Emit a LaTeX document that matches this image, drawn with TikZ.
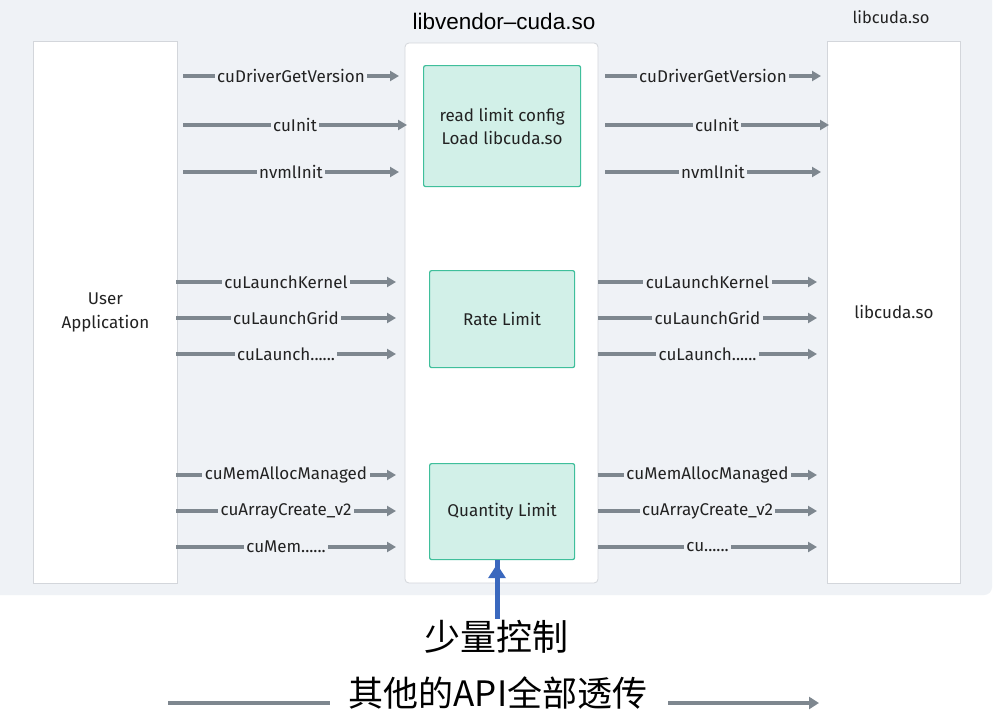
\documentclass[tikz,border=0pt]{standalone}
\usepackage{fontspec}
\setmainfont{Fira Sans}
\newfontfamily\titlefont{Liberation Sans}
\newfontfamily\cjk{Noto Sans CJK SC}
\usetikzlibrary{arrows.meta}
\definecolor{bgc}{HTML}{EFF2F6}
\definecolor{boxline}{HTML}{D3D6DB}
\definecolor{arrc}{HTML}{7E878F}
\definecolor{gfill}{HTML}{D2F0E8}
\definecolor{gline}{HTML}{3FBF9B}
\definecolor{bluearr}{HTML}{3A68BE}
\definecolor{txt}{HTML}{222222}
\tikzset{
  panel/.style={draw=boxline, line width=0.8pt, fill=white},
  gbox/.style={draw=gline, line width=1.2pt, fill=gfill, rounded corners=2pt, align=center, font=\fontsize{17}{23}\selectfont, text=txt},
  arr/.style={draw=arrc, line width=3.2pt, -{Triangle[length=9pt,width=10pt]}},
  lbl/.style={fill=bgc, inner sep=2.5pt, font=\fontsize{17}{19}\selectfont, text=txt},
}
\begin{document}
\begin{tikzpicture}[x=1pt,y=-1pt]
\useasboundingbox (0,0) rectangle (997,715);
\fill[white] (0,0) rectangle (997,715);
\fill[bgc, rounded corners=8pt] (-10,-10) rectangle (992,595);
% panels
\node[panel, minimum width=144pt, minimum height=542pt, anchor=north west, align=center, font=\fontsize{17}{24}\selectfont, text=txt] (app) at (33,41) {User\\Application};
\draw[panel, rounded corners=4pt] (405,43) rectangle (598,583);
\node[anchor=north west, minimum width=193pt, minimum height=540pt, inner sep=0] (vend) at (405,43) {};
\node[panel, minimum width=133pt, minimum height=542pt, anchor=north west, font=\fontsize{17}{19}\selectfont, text=txt] (cuda) at (827,41) {libcuda.so};
\node[font=\titlefont\fontsize{22.5}{26}\selectfont, text=black] (vtitle) at (504,21) {libvendor–cuda.so};
\node[font=\fontsize{16.5}{18}\selectfont, text=txt] (ctitle) at (891,17) {libcuda.so};
% green boxes
\node[gbox, minimum width=157pt, minimum height=121pt, anchor=north west] (cfg) at (423,65) {read limit config\\Load libcuda.so};
\node[gbox, minimum width=145pt, minimum height=97pt, anchor=north west] (rate) at (429,270) {Rate Limit};
\node[gbox, minimum width=145pt, minimum height=96pt, anchor=north west] (qty) at (429,463) {Quantity Limit};
% left arrow endpoints
\coordinate (a1) at (183,76);  \coordinate (b1) at (399,76);
\coordinate (a2) at (183,125); \coordinate (b2) at (407,125);
\coordinate (a3) at (183,172); \coordinate (b3) at (399,172);
\coordinate (a4) at (176,282); \coordinate (b4) at (396,282);
\coordinate (a5) at (176,318); \coordinate (b5) at (396,318);
\coordinate (a6) at (176,354); \coordinate (b6) at (396,354);
\coordinate (a7) at (176,475); \coordinate (b7) at (396,475);
\coordinate (a8) at (176,511); \coordinate (b8) at (396,511);
\coordinate (a9) at (176,547); \coordinate (b9) at (396,547);
% right arrow endpoints
\coordinate (c1) at (605,76);  \coordinate (d1) at (821,76);
\coordinate (c2) at (605,125); \coordinate (d2) at (829,125);
\coordinate (c3) at (605,172); \coordinate (d3) at (821,172);
\coordinate (c4) at (598,282); \coordinate (d4) at (817,282);
\coordinate (c5) at (598,318); \coordinate (d5) at (817,318);
\coordinate (c6) at (598,354); \coordinate (d6) at (817,354);
\coordinate (c7) at (598,475); \coordinate (d7) at (817,475);
\coordinate (c8) at (598,511); \coordinate (d8) at (817,511);
\coordinate (c9) at (598,547); \coordinate (d9) at (817,547);
% left arrows
\draw[arr] (a1) -- node[lbl]{cuDriverGetVersion} (b1);
\draw[arr] (a2) -- node[lbl]{cuInit} (b2);
\draw[arr] (a3) -- node[lbl]{nvmlInit} (b3);
\draw[arr] (a4) -- node[lbl]{cuLaunchKernel} (b4);
\draw[arr] (a5) -- node[lbl]{cuLaunchGrid} (b5);
\draw[arr] (a6) -- node[lbl]{cuLaunch......} (b6);
\draw[arr] (a7) -- node[lbl]{cuMemAllocManaged} (b7);
\draw[arr] (a8) -- node[lbl]{cuArrayCreate\_v2} (b8);
\draw[arr] (a9) -- node[lbl]{cuMem......} (b9);
% right arrows
\draw[arr] (c1) -- node[lbl]{cuDriverGetVersion} (d1);
\draw[arr] (c2) -- node[lbl]{cuInit} (d2);
\draw[arr] (c3) -- node[lbl]{nvmlInit} (d3);
\draw[arr] (c4) -- node[lbl]{cuLaunchKernel} (d4);
\draw[arr] (c5) -- node[lbl]{cuLaunchGrid} (d5);
\draw[arr] (c6) -- node[lbl]{cuLaunch......} (d6);
\draw[arr] (c7) -- node[lbl]{cuMemAllocManaged} (d7);
\draw[arr] (c8) -- node[lbl]{cuArrayCreate\_v2} (d8);
\draw[arr] (c9) -- node[lbl]{cu......} (d9);
% bottom
\node[font=\cjk\fontsize{36}{38}\selectfont, text=black] (ctrl) at (496,637) {少量控制};
\draw[draw=bluearr, line width=5pt, -{Triangle[length=14pt,width=17pt]}] (ctrl.north) ++(1,2) coordinate (bs) -- (bs |- qty.south) ++(0,4);
\node[font=\cjk\fontsize{35}{38}\selectfont, text=black] (pass) at (498,693) {其他的API全部透传};
\coordinate (p1) at (168,703); \coordinate (p2) at (330,703);
\coordinate (p3) at (668,703); \coordinate (p4) at (819,703);
\draw[draw=arrc, line width=4pt] (p1) -- (p2);
\draw[draw=arrc, line width=4pt, -{Triangle[length=10pt,width=12pt]}] (p3) -- (p4);
\end{tikzpicture}
\end{document}
